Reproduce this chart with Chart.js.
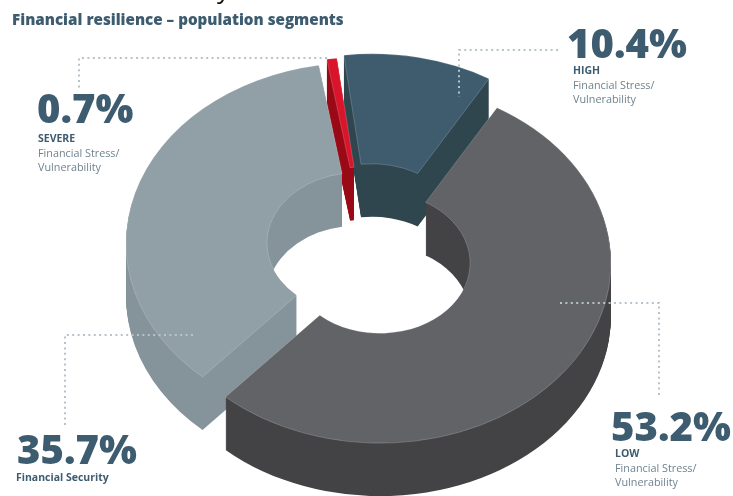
<!DOCTYPE html>
<html>
<head>
<meta charset="utf-8">
<title>Financial resilience</title>
<script src="https://cdn.jsdelivr.net/npm/chart.js@4"></script>
<style>
    html, body { margin: 0; padding: 0; background: #fff; overflow: hidden; }
    canvas { display: block; }
</style>
</head>
<body>
<canvas id="segmentChart" width="733" height="496"></canvas>
<script>
// Population segments, in the order they run round the ring
const segmentNames = ['HIGH', 'LOW', 'Financial Security', 'SEVERE'];
const segmentShares = [10.4, 53.2, 35.7, 0.7];
const subLabels = ['Financial Stress/\nVulnerability', 'Financial Stress/\nVulnerability', '', 'Financial Stress/\nVulnerability'];

const topColors = ['#3f5c6e', '#626367', '#919fa6', '#d8152b'];
const wallColors = ['#30464f', '#434244', '#85939b', '#9a0a16'];

// Back slices first so the front ones cover them
const paintOrder = [0, 3, 2, 1];
// How far each slice is pulled out of the ring, in pixels
const sliceShift = [[4, -14], [12, 15], [-11, -5], [-3, -11]];

const TILT = 0.78;   // squash of the ring
const DEPTH = 53;    // thickness of the ring

const INK = '#3d5c70';
const SOFT_INK = '#6f838f';
const DOT_COLOR = '#b7c3cb';

// Where the captions and their dotted leaders go, same order as the segments
const captionLayout = [
    { bigX: 567, bigY: 58, bigSize: 40, nameX: 573, nameY: 74, leader: [[558, 50], [459, 50], [459, 97]] },
    { bigX: 611, bigY: 441, bigSize: 40, nameX: 615, nameY: 457, leader: [[560, 303], [659, 303], [659, 397]] },
    { bigX: 17, bigY: 464, bigSize: 40, nameX: 16, nameY: 481, leader: [[193, 335], [65, 335], [65, 428]] },
    { bigX: 37, bigY: 123, bigSize: 40, nameX: 38, nameY: 142, leader: [[327, 58], [79, 58], [79, 89]] }
];

function dottedLine(ctx, points) {
    ctx.save();
    ctx.strokeStyle = DOT_COLOR;
    ctx.lineWidth = 2;
    ctx.setLineDash([2, 3.4]);
    ctx.beginPath();
    points.forEach((p, i) => i === 0 ? ctx.moveTo(p[0], p[1]) : ctx.lineTo(p[0], p[1]));
    ctx.stroke();
    ctx.restore();
}

// Draws an arc element squashed and moved, with a different look for that pass
function paintSlice(ctx, el, index, drop, look) {
    const saved = el.options;
    el.options = Object.assign({}, saved, look);
    ctx.save();
    ctx.translate(el.x + sliceShift[index][0], el.y + sliceShift[index][1] + drop);
    ctx.scale(1, TILT);
    ctx.translate(-el.x, -el.y);
    el.draw(ctx);
    ctx.restore();
    el.options = saved;
}

// Spare canvas for the walls: the stacked copies leave faint stripes if they go straight on the page
const wallCanvas = document.createElement('canvas');
wallCanvas.width = 733;
wallCanvas.height = 496;
const wallCtx = wallCanvas.getContext('2d');

const ringPlugin = {
    id: 'extrudedRing',
    beforeDatasetsDraw(chart) {
        const ctx = chart.ctx;
        const arcs = chart.getDatasetMeta(0).data;
        paintOrder.forEach(i => {
            wallCtx.globalCompositeOperation = 'source-over';
            wallCtx.clearRect(0, 0, 733, 496);
            for (let d = DEPTH; d > 0; d--) {
                paintSlice(wallCtx, arcs[i], i, d, { backgroundColor: '#000', borderWidth: 0 });
            }
            wallCtx.globalCompositeOperation = 'source-in';
            wallCtx.fillStyle = wallColors[i];
            wallCtx.fillRect(0, 0, 733, 496);
            ctx.drawImage(wallCanvas, 0, 0);

            paintSlice(ctx, arcs[i], i, 0, {
                backgroundColor: topColors[i],
                borderWidth: 0.7,
                borderColor: 'rgba(255,255,255,0.3)'
            });
        });
        return false; // the normal flat doughnut is not wanted
    },
    afterDraw(chart) {
        const ctx = chart.ctx;
        ctx.save();
        ctx.textAlign = 'left';
        ctx.textBaseline = 'alphabetic';

        // line of the heading above, only its tail is on the page
        ctx.fillStyle = '#111';
        ctx.font = '26px "Open Sans"';
        ctx.fillText('y', 217, -2);

        ctx.fillStyle = INK;
        ctx.font = '800 15.2px "Open Sans"';
        ctx.fillText('Financial resilience – population segments', 12, 25);

        segmentNames.forEach((name, i) => {
            const c = captionLayout[i];
            dottedLine(ctx, c.leader);

            ctx.fillStyle = INK;
            ctx.font = '800 ' + c.bigSize + 'px "Open Sans"';
            ctx.fillText(segmentShares[i].toFixed(1) + '%', c.bigX, c.bigY);

            ctx.font = '700 10.5px "Open Sans"';
            ctx.fillText(name, c.nameX, c.nameY);

            ctx.fillStyle = SOFT_INK;
            ctx.font = '400 10.8px "Open Sans"';
            subLabels[i].split('\n').forEach((line, k) => {
                if (line) ctx.fillText(line, c.nameX, c.nameY + 14.5 + k * 14);
            });
        });
        ctx.restore();
    }
};

new Chart(document.getElementById('segmentChart'), {
    type: 'doughnut',
    data: {
        labels: segmentNames,
        datasets: [{
            data: segmentShares,
            backgroundColor: topColors,
            borderWidth: 0
        }]
    },
    options: {
        responsive: false,
        animation: false,
        rotation: -7,
        cutout: '39%',
        layout: { padding: { left: 137, right: 134, top: 17, bottom: 17 } },
        plugins: {
            legend: { display: false },
            tooltip: { enabled: false }
        }
    },
    plugins: [ringPlugin]
});
</script>
</body>
</html>
